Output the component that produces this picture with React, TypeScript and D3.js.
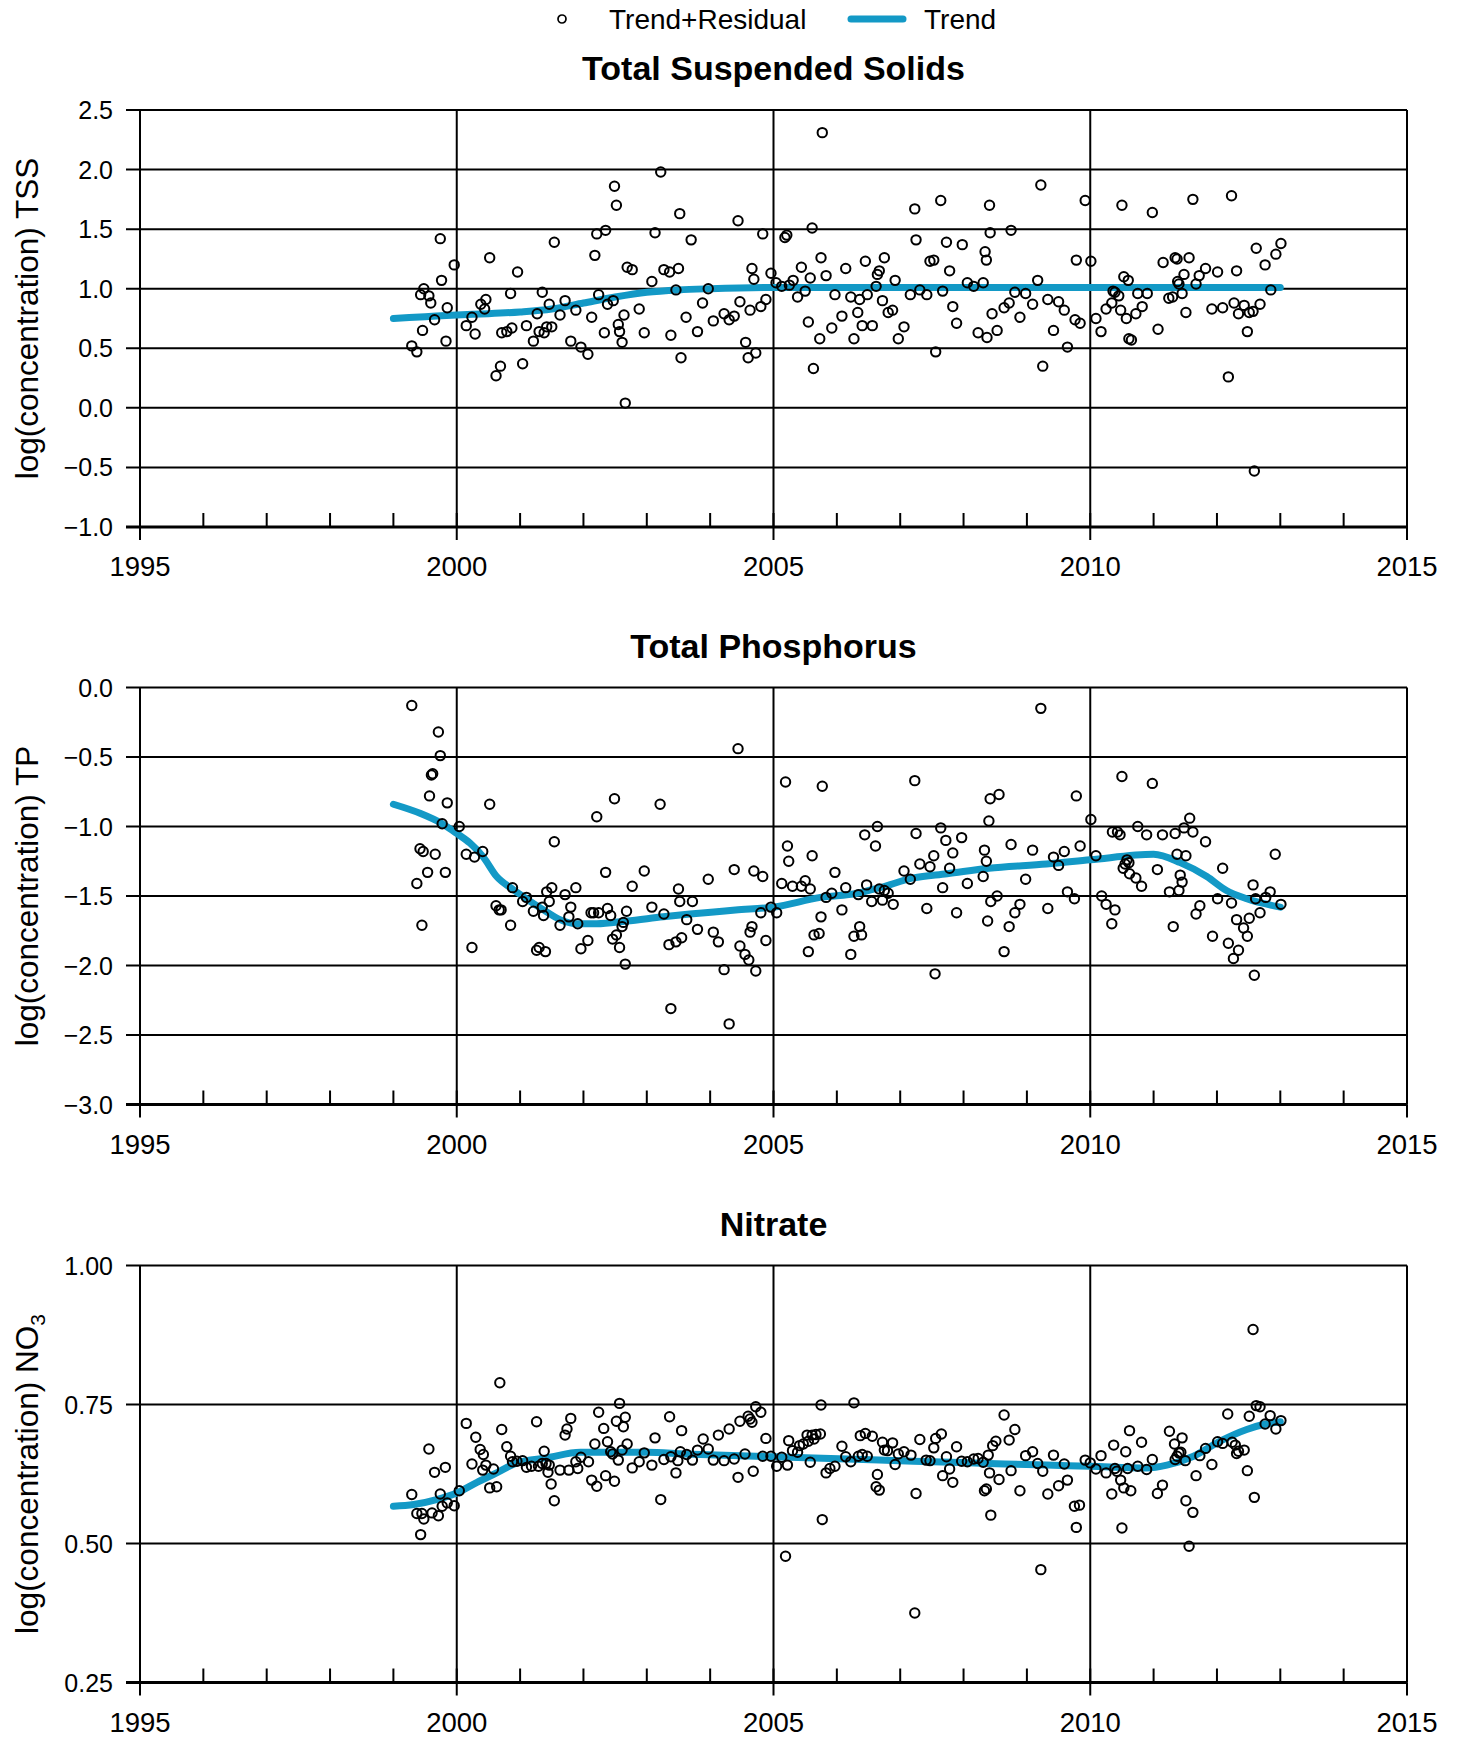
import React, { useRef, useEffect } from "react";
import * as d3 from "d3";

const FONT = '"Liberation Sans", Arial, Helvetica, sans-serif';
const TREND_COLOR = "#1399c6";

// x axis
const xMajor = [1995, 2000, 2005, 2010, 2015];
const xMinor = d3.range(1995, 2016);

// panel titles / labels / ticks
const titles = ["Total Suspended Solids", "Total Phosphorus", "Nitrate"];
const yLabels = ["TSS", "TP", "NO"];
const tssTicks = [-1, -0.5, 0, 0.5, 1, 1.5, 2, 2.5];
const tpTicks = [-3, -2.5, -2, -1.5, -1, -0.5, 0];
const no3Ticks = [0.25, 0.5, 0.75, 1.0];

// Total Suspended Solids
const tssPoints: [number, number][] = [
  [1999.29, 0.52], [1999.37, 0.47], [1999.46, 0.65], [1999.43, 0.95], [1999.48, 1.0], [1999.56, 0.94],
  [1999.59, 0.88], [1999.65, 0.74], [1999.74, 1.42], [1999.76, 1.07], [1999.83, 0.56], [1999.85, 0.84],
  [1999.96, 1.2], [2000.15, 0.69], [2000.24, 0.76], [2000.29, 0.62], [2000.38, 0.87], [2000.44, 0.83],
  [2000.46, 0.91], [2000.52, 1.26], [2000.62, 0.27], [2000.69, 0.35], [2000.71, 0.63], [2000.79, 0.64],
  [2000.87, 0.67], [2000.85, 0.96], [2000.96, 1.14], [2001.04, 0.37], [2001.1, 0.69], [2001.21, 0.56],
  [2001.27, 0.79], [2001.3, 0.64], [2001.35, 0.97], [2001.38, 0.63], [2001.42, 0.68], [2001.46, 0.87],
  [2001.5, 0.68], [2001.54, 1.39], [2001.63, 0.78], [2001.71, 0.9], [2001.8, 0.56], [2001.88, 0.82],
  [2001.96, 0.51], [2002.07, 0.45], [2002.13, 0.76], [2002.18, 1.28], [2002.21, 1.46], [2002.24, 0.95],
  [2002.35, 1.49], [2002.33, 0.63], [2002.38, 0.87], [2002.47, 0.9], [2002.49, 1.86], [2002.52, 1.7],
  [2002.55, 0.7], [2002.57, 0.64], [2002.61, 0.55], [2002.64, 0.78], [2002.66, 0.04], [2002.69, 1.18],
  [2002.77, 1.16], [2002.88, 0.83], [2002.96, 0.63], [2003.08, 1.06], [2003.13, 1.47], [2003.22, 1.98],
  [2003.27, 1.16], [2003.36, 1.14], [2003.38, 0.61], [2003.46, 0.99], [2003.5, 1.17], [2003.52, 1.63],
  [2003.54, 0.42], [2003.62, 0.76], [2003.7, 1.41], [2003.8, 0.64], [2003.88, 0.88], [2003.97, 1.0],
  [2004.05, 0.73], [2004.22, 0.79], [2004.3, 0.74], [2004.38, 0.77], [2004.44, 1.57], [2004.47, 0.89],
  [2004.56, 0.55], [2004.6, 0.42], [2004.63, 0.82], [2004.66, 1.17], [2004.69, 1.08], [2004.72, 0.46],
  [2004.8, 0.85], [2004.83, 1.46], [2004.88, 0.91], [2004.96, 1.13], [2005.04, 1.05], [2005.13, 1.02],
  [2005.18, 1.43], [2005.21, 1.45], [2005.25, 1.03], [2005.31, 1.07], [2005.38, 0.93], [2005.44, 1.18],
  [2005.5, 0.98], [2005.55, 0.72], [2005.58, 1.09], [2005.61, 1.51], [2005.63, 0.33], [2005.73, 0.58],
  [2005.75, 1.26], [2005.77, 2.31], [2005.83, 1.11], [2005.92, 0.67], [2005.97, 0.95], [2006.08, 0.77],
  [2006.14, 1.17], [2006.22, 0.93], [2006.27, 0.58], [2006.33, 0.8], [2006.36, 0.91], [2006.4, 0.69],
  [2006.45, 1.23], [2006.48, 0.95], [2006.56, 0.69], [2006.62, 1.02], [2006.64, 1.12], [2006.67, 1.15],
  [2006.72, 0.9], [2006.75, 1.26], [2006.81, 0.8], [2006.88, 0.82], [2006.92, 1.07], [2006.97, 0.58],
  [2007.06, 0.68], [2007.16, 0.95], [2007.23, 1.67], [2007.25, 1.41], [2007.31, 0.99], [2007.42, 0.95],
  [2007.47, 1.23], [2007.53, 1.24], [2007.56, 0.47], [2007.64, 1.74], [2007.67, 0.98], [2007.73, 1.39],
  [2007.78, 1.15], [2007.83, 0.85], [2007.89, 0.71], [2007.98, 1.37], [2008.06, 1.05], [2008.16, 1.02],
  [2008.23, 0.63], [2008.31, 1.05], [2008.34, 1.31], [2008.36, 1.24], [2008.37, 0.59], [2008.41, 1.7],
  [2008.42, 1.47], [2008.45, 0.79], [2008.53, 0.65], [2008.64, 0.84], [2008.72, 0.88], [2008.75, 1.49],
  [2008.81, 0.97], [2008.89, 0.76], [2008.98, 0.96], [2009.09, 0.87], [2009.17, 1.07], [2009.22, 1.87],
  [2009.25, 0.35], [2009.33, 0.91], [2009.42, 0.65], [2009.5, 0.89], [2009.59, 0.82], [2009.64, 0.51],
  [2009.76, 0.74], [2009.78, 1.24], [2009.84, 0.71], [2009.92, 1.74], [2010.01, 1.23], [2010.09, 0.75],
  [2010.17, 0.64], [2010.25, 0.83], [2010.34, 0.88], [2010.36, 0.98], [2010.39, 0.97], [2010.45, 0.94],
  [2010.48, 0.82], [2010.5, 1.7], [2010.53, 1.1], [2010.57, 0.75], [2010.6, 1.07], [2010.61, 0.58],
  [2010.65, 0.57], [2010.72, 0.79], [2010.75, 0.96], [2010.82, 0.85], [2010.9, 0.96], [2010.98, 1.64],
  [2011.07, 0.66], [2011.15, 1.22], [2011.24, 0.92], [2011.3, 0.93], [2011.34, 1.26], [2011.37, 1.25],
  [2011.38, 1.06], [2011.4, 1.04], [2011.45, 0.96], [2011.48, 1.12], [2011.51, 0.8], [2011.56, 1.26],
  [2011.62, 1.75], [2011.67, 1.04], [2011.72, 1.11], [2011.82, 1.17], [2011.92, 0.83], [2012.01, 1.14],
  [2012.09, 0.84], [2012.18, 0.26], [2012.23, 1.78], [2012.27, 0.88], [2012.31, 1.15], [2012.34, 0.79],
  [2012.43, 0.86], [2012.48, 0.64], [2012.51, 0.8], [2012.57, 0.81], [2012.59, -0.53], [2012.62, 1.34],
  [2012.68, 0.87], [2012.76, 1.2], [2012.85, 0.99], [2012.93, 1.29], [2013.01, 1.38],
];
const tssTrend: [number, number][] = [
  [1999, 0.75], [1999.5, 0.765], [2000, 0.78], [2000.5, 0.79], [2001, 0.805], [2001.5, 0.83],
  [2002, 0.88], [2002.5, 0.93], [2003, 0.97], [2003.5, 0.99], [2004, 1.0], [2005, 1.01], [2013, 1.01],
];

// Total Phosphorus
const tpPoints: [number, number][] = [
  [1999.29, -0.13], [1999.71, -0.32], [1999.74, -0.49], [1999.6, -0.63], [1999.62, -0.62], [1999.57, -0.78],
  [1999.85, -0.83], [1999.77, -0.98], [2000.04, -1.0], [2000.52, -0.84], [1999.42, -1.16], [1999.47, -1.18],
  [1999.66, -1.2], [1999.54, -1.33], [1999.82, -1.33], [1999.37, -1.41], [1999.45, -1.71], [2000.15, -1.2],
  [2000.28, -1.22], [2000.41, -1.18], [2000.24, -1.87], [2000.88, -1.44], [2000.62, -1.57], [2000.67, -1.6],
  [2000.7, -1.6], [2000.85, -1.71], [2001.04, -1.54], [2001.1, -1.51], [2001.21, -1.61], [2001.35, -1.58],
  [2001.37, -1.64], [2001.42, -1.47], [2001.46, -1.54], [2001.5, -1.44], [2001.54, -1.11], [2001.26, -1.89],
  [2001.3, -1.87], [2001.4, -1.9], [2001.63, -1.71], [2001.71, -1.49], [2001.77, -1.65], [2001.8, -1.58],
  [2001.88, -1.44], [2001.91, -1.7], [2001.96, -1.88], [2002.07, -1.82], [2002.12, -1.62], [2002.16, -1.62],
  [2002.21, -0.93], [2002.24, -1.62], [2002.35, -1.33], [2002.38, -1.59], [2002.43, -1.64], [2002.49, -0.8],
  [2002.46, -1.81], [2002.52, -1.78], [2002.57, -1.87], [2002.61, -1.72], [2002.63, -1.69], [2002.66, -1.99],
  [2002.68, -1.61], [2002.77, -1.43], [2002.96, -1.32], [2003.08, -1.58], [2003.21, -0.84], [2003.27, -1.63],
  [2003.35, -1.85], [2003.38, -2.31], [2003.46, -1.83], [2003.5, -1.45], [2003.52, -1.54], [2003.55, -1.8],
  [2003.63, -1.67], [2003.72, -1.54], [2003.8, -1.74], [2003.97, -1.38], [2004.05, -1.76], [2004.13, -1.83],
  [2004.22, -2.03], [2004.3, -2.42], [2004.38, -1.31], [2004.44, -0.44], [2004.47, -1.86], [2004.55, -1.92],
  [2004.61, -1.96], [2004.63, -1.76], [2004.66, -1.72], [2004.69, -1.32], [2004.72, -2.04], [2004.8, -1.62],
  [2004.83, -1.36], [2004.88, -1.82], [2004.96, -1.58], [2005.05, -1.62], [2005.13, -1.41], [2005.19, -0.68],
  [2005.22, -1.14], [2005.24, -1.25], [2005.3, -1.43], [2005.44, -1.43], [2005.5, -1.39], [2005.58, -1.45],
  [2005.61, -1.21], [2005.55, -1.9], [2005.64, -1.78], [2005.72, -1.77], [2005.75, -1.65], [2005.77, -0.71],
  [2005.83, -1.51], [2005.92, -1.48], [2005.97, -1.33], [2006.08, -1.6], [2006.14, -1.44], [2006.22, -1.92],
  [2006.27, -1.79], [2006.36, -1.72], [2006.39, -1.78], [2006.34, -1.49], [2006.44, -1.06], [2006.47, -1.42],
  [2006.55, -1.54], [2006.61, -1.14], [2006.64, -1.0], [2006.67, -1.45], [2006.72, -1.53], [2006.75, -1.46],
  [2006.81, -1.48], [2006.89, -1.56], [2007.06, -1.32], [2007.16, -1.38], [2007.23, -0.67], [2007.25, -1.05],
  [2007.31, -1.27], [2007.42, -1.59], [2007.47, -1.29], [2007.53, -1.21], [2007.55, -2.06], [2007.64, -1.01],
  [2007.67, -1.44], [2007.72, -1.1], [2007.78, -1.3], [2007.83, -1.19], [2007.89, -1.62], [2007.97, -1.08],
  [2008.06, -1.41], [2008.31, -1.36], [2008.33, -1.17], [2008.36, -1.25], [2008.38, -1.68], [2008.4, -0.96],
  [2008.42, -0.8], [2008.43, -1.54], [2008.56, -0.77], [2008.53, -1.5], [2008.72, -1.72], [2008.64, -1.9],
  [2008.75, -1.13], [2008.81, -1.62], [2008.89, -1.56], [2008.98, -1.38], [2009.09, -1.17], [2009.22, -0.15],
  [2009.33, -1.59], [2009.42, -1.22], [2009.5, -1.28], [2009.59, -1.18], [2009.64, -1.47], [2009.75, -1.52],
  [2009.78, -0.78], [2009.84, -1.14], [2010.01, -0.95], [2010.09, -1.21], [2010.18, -1.5], [2010.25, -1.56],
  [2010.34, -1.7], [2010.39, -1.6], [2010.35, -1.04], [2010.43, -1.04], [2010.47, -1.06], [2010.5, -0.64],
  [2010.52, -1.3], [2010.55, -1.27], [2010.58, -1.24], [2010.61, -1.26], [2010.62, -1.34], [2010.72, -1.37],
  [2010.75, -1.0], [2010.81, -1.43], [2010.89, -1.06], [2010.98, -0.69], [2011.06, -1.31], [2011.14, -1.06],
  [2011.25, -1.47], [2011.31, -1.72], [2011.34, -1.05], [2011.37, -1.2], [2011.4, -1.46], [2011.42, -1.35],
  [2011.45, -1.4], [2011.48, -1.01], [2011.51, -1.21], [2011.57, -0.94], [2011.62, -1.04], [2011.67, -1.63],
  [2011.73, -1.57], [2011.82, -1.11], [2011.93, -1.79], [2012.01, -1.52], [2012.09, -1.3], [2012.18, -1.84],
  [2012.23, -1.55], [2012.26, -1.95], [2012.31, -1.67], [2012.34, -1.89], [2012.42, -1.73], [2012.48, -1.79],
  [2012.51, -1.66], [2012.57, -1.42], [2012.59, -2.07], [2012.61, -1.52], [2012.68, -1.62], [2012.77, -1.51],
  [2012.84, -1.47], [2012.92, -1.2], [2013.01, -1.56],
];
const tpTrend: [number, number][] = [
  [1999, -0.84], [1999.42, -0.905], [1999.77, -0.98], [2000, -1.05], [2000.21, -1.12], [2000.42, -1.22],
  [2000.63, -1.36], [2000.88, -1.45], [2001.1, -1.52], [2001.37, -1.6], [2001.63, -1.67], [2001.9, -1.7],
  [2002.21, -1.7], [2002.68, -1.68], [2003.26, -1.65], [2003.68, -1.63], [2004.4, -1.6], [2005, -1.58],
  [2005.74, -1.51], [2006.32, -1.48], [2006.68, -1.44], [2007.21, -1.37], [2007.74, -1.34], [2008.4, -1.3],
  [2009.31, -1.27], [2010, -1.24], [2011, -1.2], [2011.42, -1.26], [2011.84, -1.36], [2012.15, -1.46],
  [2012.47, -1.52], [2013, -1.58],
];

// Nitrate
const no3Points: [number, number][] = [
  [1999.29, 0.588], [1999.37, 0.554], [1999.45, 0.554], [1999.48, 0.544], [1999.43, 0.516], [1999.56, 0.67],
  [1999.61, 0.555], [1999.65, 0.628], [1999.71, 0.55], [1999.74, 0.589], [1999.77, 0.567], [1999.82, 0.637],
  [1999.85, 0.573], [1999.96, 0.568], [2000.04, 0.595], [2000.15, 0.716], [2000.24, 0.643], [2000.3, 0.691],
  [2000.37, 0.669], [2000.42, 0.66], [2000.46, 0.641], [2000.41, 0.632], [2000.58, 0.634], [2000.52, 0.6],
  [2000.63, 0.602], [2000.68, 0.789], [2000.71, 0.705], [2000.79, 0.674], [2000.85, 0.657], [2000.88, 0.647],
  [2000.95, 0.648], [2001.04, 0.649], [2001.1, 0.637], [2001.18, 0.639], [2001.26, 0.719], [2001.29, 0.639],
  [2001.35, 0.644], [2001.38, 0.666], [2001.41, 0.644], [2001.44, 0.628], [2001.46, 0.641], [2001.49, 0.607],
  [2001.54, 0.577], [2001.63, 0.632], [2001.71, 0.695], [2001.74, 0.706], [2001.8, 0.725], [2001.77, 0.632],
  [2001.88, 0.647], [2001.91, 0.635], [2001.96, 0.655], [2002.08, 0.647], [2002.13, 0.614], [2002.21, 0.603],
  [2002.18, 0.679], [2002.24, 0.736], [2002.32, 0.707], [2002.35, 0.622], [2002.38, 0.683], [2002.43, 0.665],
  [2002.46, 0.661], [2002.49, 0.612], [2002.52, 0.72], [2002.55, 0.65], [2002.57, 0.752], [2002.61, 0.668],
  [2002.63, 0.71], [2002.66, 0.727], [2002.69, 0.679], [2002.77, 0.636], [2002.88, 0.647], [2002.96, 0.663],
  [2003.08, 0.641], [2003.13, 0.69], [2003.22, 0.579], [2003.27, 0.651], [2003.36, 0.728], [2003.38, 0.656],
  [2003.46, 0.627], [2003.49, 0.649], [2003.53, 0.665], [2003.55, 0.703], [2003.63, 0.66], [2003.72, 0.65],
  [2003.8, 0.668], [2003.89, 0.688], [2003.97, 0.67], [2004.05, 0.65], [2004.13, 0.695], [2004.22, 0.649],
  [2004.3, 0.706], [2004.38, 0.652], [2004.44, 0.619], [2004.47, 0.72], [2004.55, 0.661], [2004.6, 0.729],
  [2004.63, 0.724], [2004.66, 0.718], [2004.68, 0.63], [2004.72, 0.746], [2004.8, 0.736], [2004.83, 0.657],
  [2004.88, 0.689], [2004.96, 0.657], [2005.05, 0.639], [2005.13, 0.655], [2005.19, 0.477], [2005.22, 0.641],
  [2005.24, 0.685], [2005.3, 0.667], [2005.38, 0.664], [2005.41, 0.676], [2005.47, 0.679], [2005.53, 0.695],
  [2005.55, 0.684], [2005.58, 0.646], [2005.61, 0.695], [2005.64, 0.688], [2005.67, 0.696], [2005.74, 0.697],
  [2005.75, 0.749], [2005.77, 0.543], [2005.83, 0.627], [2005.89, 0.635], [2005.97, 0.639], [2006.08, 0.675],
  [2006.14, 0.656], [2006.22, 0.647], [2006.27, 0.753], [2006.34, 0.657], [2006.37, 0.694], [2006.4, 0.66],
  [2006.45, 0.698], [2006.48, 0.657], [2006.56, 0.693], [2006.62, 0.602], [2006.64, 0.624], [2006.67, 0.596],
  [2006.72, 0.682], [2006.75, 0.668], [2006.8, 0.667], [2006.88, 0.681], [2006.92, 0.642], [2006.97, 0.661],
  [2007.06, 0.665], [2007.17, 0.659], [2007.23, 0.375], [2007.25, 0.59], [2007.31, 0.687], [2007.41, 0.65],
  [2007.47, 0.649], [2007.53, 0.672], [2007.56, 0.689], [2007.65, 0.697], [2007.67, 0.622], [2007.73, 0.656],
  [2007.78, 0.634], [2007.83, 0.61], [2007.89, 0.674], [2007.97, 0.648], [2008.06, 0.647], [2008.16, 0.652],
  [2008.23, 0.653], [2008.31, 0.646], [2008.33, 0.595], [2008.36, 0.598], [2008.39, 0.659], [2008.41, 0.627],
  [2008.43, 0.551], [2008.46, 0.676], [2008.51, 0.684], [2008.56, 0.615], [2008.64, 0.731], [2008.72, 0.686],
  [2008.75, 0.631], [2008.81, 0.705], [2008.89, 0.595], [2008.98, 0.658], [2009.09, 0.665], [2009.17, 0.644],
  [2009.22, 0.453], [2009.25, 0.63], [2009.33, 0.589], [2009.42, 0.659], [2009.5, 0.604], [2009.59, 0.643],
  [2009.64, 0.614], [2009.75, 0.567], [2009.83, 0.569], [2009.78, 0.529], [2009.92, 0.65], [2010.0, 0.645],
  [2010.09, 0.634], [2010.17, 0.658], [2010.25, 0.627], [2010.34, 0.589], [2010.37, 0.677], [2010.39, 0.635],
  [2010.42, 0.63], [2010.48, 0.614], [2010.5, 0.528], [2010.53, 0.6], [2010.56, 0.665], [2010.59, 0.635],
  [2010.62, 0.703], [2010.64, 0.595], [2010.75, 0.639], [2010.81, 0.682], [2010.89, 0.633], [2010.98, 0.651],
  [2011.06, 0.59], [2011.14, 0.605], [2011.25, 0.702], [2011.33, 0.679], [2011.34, 0.651], [2011.37, 0.657],
  [2011.4, 0.663], [2011.43, 0.664], [2011.45, 0.69], [2011.5, 0.649], [2011.51, 0.577], [2011.56, 0.495],
  [2011.62, 0.556], [2011.67, 0.622], [2011.73, 0.658], [2011.82, 0.671], [2011.92, 0.642], [2012.01, 0.683],
  [2012.09, 0.68], [2012.17, 0.733], [2012.24, 0.682], [2012.29, 0.677], [2012.31, 0.662], [2012.34, 0.666],
  [2012.43, 0.668], [2012.48, 0.631], [2012.51, 0.729], [2012.57, 0.885], [2012.59, 0.583], [2012.62, 0.748],
  [2012.68, 0.746], [2012.76, 0.715], [2012.84, 0.73], [2012.93, 0.706], [2013.01, 0.721],
];
const no3Trend: [number, number][] = [
  [1999, 0.567], [1999.32, 0.57], [1999.68, 0.579], [2000, 0.591], [2000.32, 0.61], [2000.63, 0.627],
  [2000.95, 0.645], [2001.42, 0.654], [2001.95, 0.664], [2002.47, 0.664], [2003, 0.664], [2003.6, 0.661],
  [2005, 0.656], [2006.16, 0.652], [2007.21, 0.648], [2008.4, 0.644], [2009.31, 0.641], [2010, 0.639],
  [2010.89, 0.636], [2011.21, 0.641], [2011.63, 0.657], [2012.05, 0.684], [2012.47, 0.705], [2012.73, 0.714],
  [2013, 0.719],
];

const panels = [
  { title: titles[0], label: yLabels[0], sub: "", ticks: tssTicks, fmt: ".1f", points: tssPoints, trend: tssTrend },
  { title: titles[1], label: yLabels[1], sub: "", ticks: tpTicks, fmt: ".1f", points: tpPoints, trend: tpTrend },
  { title: titles[2], label: yLabels[2], sub: "3", ticks: no3Ticks, fmt: ".2f", points: no3Points, trend: no3Trend },
];

const W = 1461;
const H = 1737;
const plotLeft = 140;
const plotRight = 1407;
const panelTops = [110, 687.5, 1265.5];
const plotH = 417;

const App = () => {
  const svgRef = useRef<SVGSVGElement>(null);

  useEffect(() => {
    const svg = d3.select(svgRef.current);
    svg.selectAll("*").remove();
    svg.attr("width", W).attr("height", H).style("font-family", FONT);

    svg.append("rect").attr("width", W).attr("height", H).attr("fill", "#fff");

    const x = d3.scaleLinear().domain([1995, 2015]).range([plotLeft, plotRight]);

    // legend
    const lg = svg.append("g").attr("transform", "translate(0,19)");
    lg.append("circle").attr("cx", 562).attr("cy", 0).attr("r", 4)
      .attr("fill", "none").attr("stroke", "#000").attr("stroke-width", 1.7);
    lg.append("text").attr("x", 609).attr("y", 0).attr("dy", "0.35em")
      .style("font-size", "28px").text("Trend+Residual");
    lg.append("line").attr("x1", 851).attr("x2", 903).attr("y1", 0).attr("y2", 0)
      .attr("stroke", TREND_COLOR).attr("stroke-width", 7).attr("stroke-linecap", "round");
    lg.append("text").attr("x", 924).attr("y", 0).attr("dy", "0.35em")
      .style("font-size", "28px").text("Trend");

    panels.forEach((p, i) => {
      const top = panelTops[i];
      const bottom = top + plotH;
      const [lo, hi] = d3.extent(p.ticks) as [number, number];
      const y = d3.scaleLinear().domain([lo, hi]).range([bottom, top]);
      const g = svg.append("g");
      const fmt = d3.format(p.fmt);

      // title
      g.append("text").attr("x", (plotLeft + plotRight) / 2).attr("y", top - 30)
        .attr("text-anchor", "middle").style("font-size", "34px").style("font-weight", "bold")
        .text(p.title);

      // horizontal gridlines + outward ticks
      g.selectAll(".hgrid").data(p.ticks).enter().append("line")
        .attr("x1", plotLeft - 14).attr("x2", plotRight)
        .attr("y1", (d) => y(d)).attr("y2", (d) => y(d))
        .attr("stroke", "#000").attr("stroke-width", (d) => (d === lo ? 3 : 2));

      g.selectAll(".ylab").data(p.ticks).enter().append("text")
        .attr("x", 113).attr("y", (d) => y(d)).attr("dy", "0.36em")
        .attr("text-anchor", "end").style("font-size", "25px")
        .text((d) => fmt(d));

      // vertical gridlines / frame
      g.selectAll(".vgrid").data(xMajor).enter().append("line")
        .attr("x1", (d) => x(d)).attr("x2", (d) => x(d))
        .attr("y1", top).attr("y2", (d) => (d === 2015 ? bottom : bottom + 13))
        .attr("stroke", "#000").attr("stroke-width", 2);
      g.selectAll(".minor").data(xMinor).enter().append("line")
        .attr("x1", (d) => x(d)).attr("x2", (d) => x(d))
        .attr("y1", bottom - 14).attr("y2", bottom)
        .attr("stroke", "#000").attr("stroke-width", 2);
      g.append("line").attr("x1", x(2015)).attr("x2", x(2015))
        .attr("y1", bottom).attr("y2", bottom + 13)
        .attr("stroke", "#000").attr("stroke-width", 2);

      g.selectAll(".xlab").data(xMajor).enter().append("text")
        .attr("x", (d) => x(d)).attr("y", bottom + 49)
        .attr("text-anchor", "middle").style("font-size", "27.5px")
        .text((d) => d);

      // y axis title
      const yl = g.append("text")
        .attr("transform", `translate(38,${(top + bottom) / 2}) rotate(-90)`)
        .attr("text-anchor", "middle").style("font-size", "31.5px");
      yl.append("tspan").text(`log(concentration) ${p.label}`);
      if (p.sub) yl.append("tspan").attr("dy", 7).style("font-size", "21px").text(p.sub);

      // trend
      const line = d3.line<[number, number]>()
        .x((d) => x(d[0])).y((d) => y(d[1]))
        .curve(d3.curveMonotoneX);
      g.append("path").datum(p.trend).attr("d", line)
        .attr("fill", "none").attr("stroke", TREND_COLOR).attr("stroke-width", 7)
        .attr("stroke-linecap", "round").attr("stroke-linejoin", "round");

      // trend + residual points
      g.selectAll(".pt").data(p.points).enter().append("circle")
        .attr("cx", (d) => x(d[0])).attr("cy", (d) => y(d[1])).attr("r", 4.7)
        .attr("fill", "none").attr("stroke", "#000").attr("stroke-width", 2);
    });
  }, []);

  return (
    <>
      <style>{"body{margin:0}"}</style>
      <svg ref={svgRef} style={{ display: "block" }}></svg>
    </>
  );
};

export default App;
